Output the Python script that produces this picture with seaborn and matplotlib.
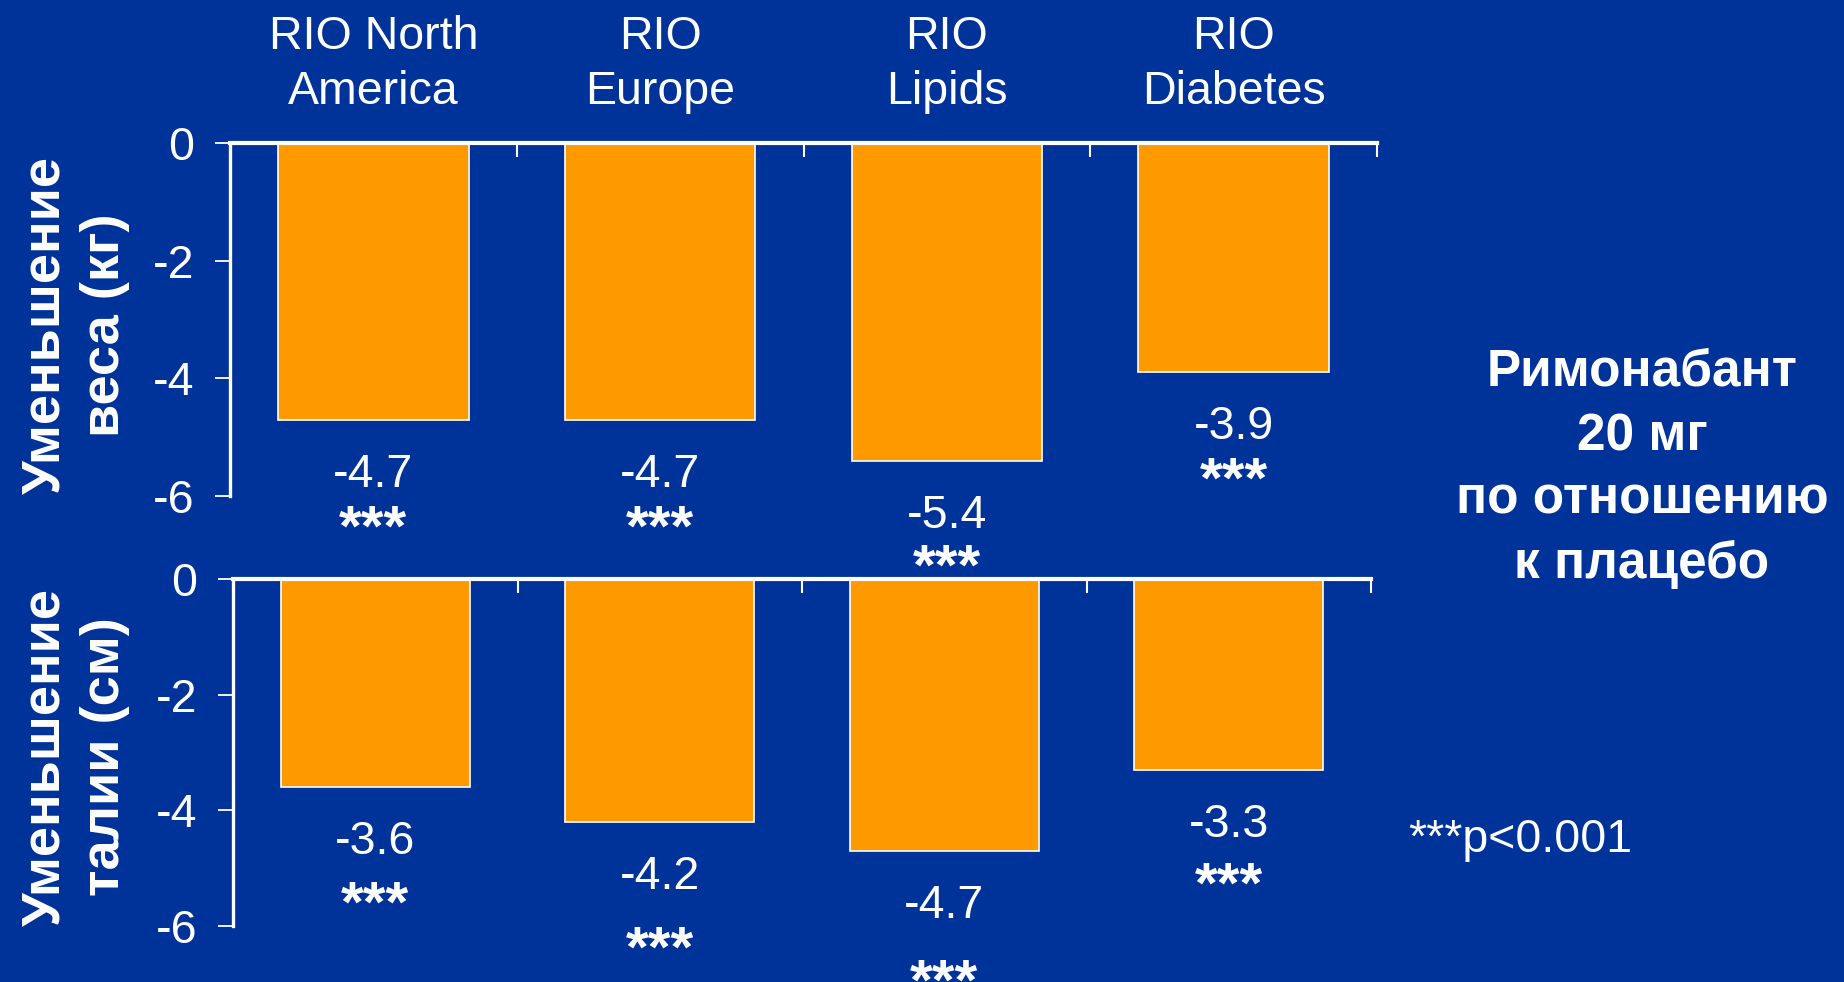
import matplotlib
matplotlib.use("Agg")
import matplotlib.pyplot as plt
import seaborn as sns
import pandas as pd

# Study arms and their placebo-adjusted changes
studies = ["RIO North\nAmerica", "RIO\nEurope", "RIO\nLipids", "RIO\nDiabetes"]
weight_change = [-4.7, -4.7, -5.4, -3.9]   # kg
waist_change = [-3.6, -4.2, -4.7, -3.3]    # cm
significance = ["***", "***", "***", "***"]
y_ticks = [0, -2, -4, -6]

weight_label = "Уменьшение\nвеса (кг)"
waist_label = "Уменьшение\nталии (см)"
side_note = ["Римонабант", "20 мг", "по отношению", "к плацебо"]
footnote = "***p<0.001"

BG = "#003399"
BAR = "#FF9900"
FG = "white"
FS = 33.5

sns.set_style("white")
plt.rcParams["font.family"] = ["Liberation Sans", "DejaVu Sans"]
plt.rcParams["axes.unicode_minus"] = False

W, H = 1844, 982
fig = plt.figure(figsize=(W / 100, H / 100), dpi=100, facecolor=BG)


def px_axes(left, right, top, bottom):
    return fig.add_axes([left / W, 1 - bottom / H, (right - left) / W, (bottom - top) / H])


ax_top = px_axes(230, 1377, 143, 496)
ax_bot = px_axes(233, 1371, 579, 926)

# star offsets below the bar end (pixels), per panel
star_gap_top = [84, 84, 82, 83]
star_gap_bot = [92, 103, 107, 91]


def draw_panel(ax, values, star_gaps, show_titles):
    df = pd.DataFrame({"study": studies, "value": values})
    sns.barplot(data=df, x="study", y="value", ax=ax, color=BAR, width=0.665,
                edgecolor=FG, linewidth=1.2, saturation=1)
    ax.set_facecolor(BG)
    ax.set_xlim(-0.5, 3.5)
    ax.set_ylim(-6, 0)
    ax.set_xlabel("")
    ax.set_ylabel("")

    for s in ("right", "bottom"):
        ax.spines[s].set_visible(False)
    ax.spines["left"].set_color(FG)
    ax.spines["left"].set_linewidth(2.4)
    ax.spines["top"].set_color(FG)
    ax.spines["top"].set_linewidth(3.0)

    ax.set_yticks(y_ticks)
    ax.set_yticklabels([str(t) for t in y_ticks])
    ax.tick_params(axis="y", direction="out", length=11, width=1.3, color=FG,
                   labelcolor=FG, labelsize=FS, pad=14.5, left=True)

    ax.xaxis.tick_top()
    ax.set_xticks(range(len(studies)))
    if show_titles:
        ax.set_xticklabels(studies, linespacing=1.32)
    else:
        ax.set_xticklabels([])
    ax.set_xticks([0.5, 1.5, 2.5, 3.5], minor=True)
    ax.tick_params(axis="x", which="major", length=0, pad=21, labelcolor=FG, labelsize=FS,
                   top=True, bottom=False)
    ax.tick_params(axis="x", which="minor", direction="in", length=10, width=1.5,
                   color=FG, top=True, bottom=False)

    for i, v in enumerate(values):
        ax.annotate(f"{v:.1f}", xy=(i, v), xytext=(0, -67), textcoords="offset pixels",
                    ha="center", va="baseline", color=FG, fontsize=FS,
                    annotation_clip=False)
        ax.annotate(significance[i], xy=(i, v), xytext=(0, -star_gaps[i]),
                    textcoords="offset pixels", ha="center", va="top", color=FG,
                    fontsize=42, fontweight="bold", annotation_clip=False)


draw_panel(ax_top, weight_change, star_gap_top, True)
draw_panel(ax_bot, waist_change, star_gap_bot, False)

fig.text(75 / W, 1 - 325 / H, weight_label, rotation=90, ha="center", va="center",
         color=FG, fontsize=39, fontweight="bold", linespacing=1.25, multialignment="center")
fig.text(75 / W, 1 - 757 / H, waist_label, rotation=90, ha="center", va="center",
         color=FG, fontsize=39, fontweight="bold", linespacing=1.25, multialignment="center")

for k, line in enumerate(side_note):
    fig.text(1642 / W, 1 - (386 + 64 * k) / H, line, ha="center", va="baseline",
             color=FG, fontsize=37, fontweight="bold")

fig.text(1408 / W, 1 - 852 / H, footnote, ha="left", va="baseline", color=FG, fontsize=FS)

fig.savefig("out.png", dpi=100, facecolor=BG)
